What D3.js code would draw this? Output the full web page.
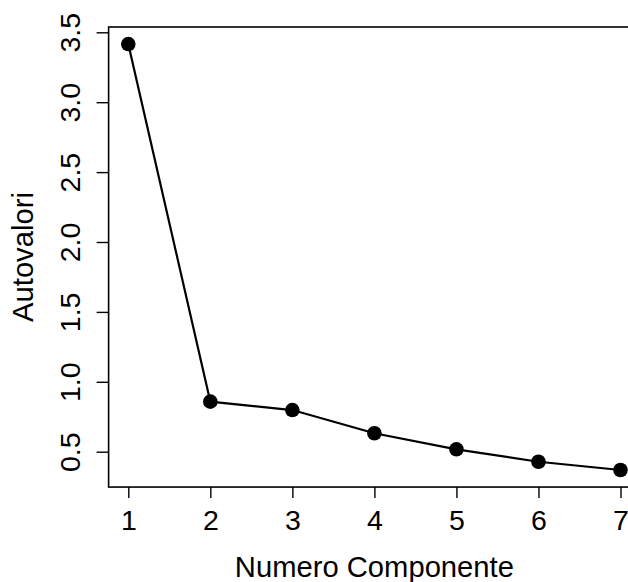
<!DOCTYPE html>
<html>
<head>
<meta charset="utf-8">
<script src="https://cdn.jsdelivr.net/npm/d3@7/dist/d3.min.js"></script>
<style>
  html, body { margin: 0; padding: 0; background: #fff; }
  svg { display: block; }
  text { font-family: "Liberation Sans", Arial, sans-serif; fill: #000; }
</style>
</head>
<body>
<svg id="chart" width="628" height="582"></svg>
<script>
// Scree plot: eigenvalues per principal component
const components = [1, 2, 3, 4, 5, 6, 7];
const eigenvalues = [3.416, 0.858, 0.798, 0.632, 0.517, 0.428, 0.369];
const xTicks = [1, 2, 3, 4, 5, 6, 7];
const yTicks = [0.5, 1.0, 1.5, 2.0, 2.5, 3.0, 3.5];
const xTitle = "Numero Componente";
const yTitle = "Autovalori";

const svg = d3.select("#chart");

const x = d3.scaleLinear().domain([1, 7]).range([128.3, 620.5]);
const y = d3.scaleLinear().domain([0.5, 3.5]).range([451.7, 32.3]);

// plot region padded 4% beyond the data range on each side
const xPad = (d3.max(components) - d3.min(components)) * 0.04;
const yPad = (d3.max(eigenvalues) - d3.min(eigenvalues)) * 0.04;
const boxLeft = x(d3.min(components) - xPad);
const boxRight = x(d3.max(components) + xPad);
const boxTop = y(d3.max(eigenvalues) + yPad);
const boxBottom = y(d3.min(eigenvalues) - yPad);

svg.append("rect")
  .attr("x", boxLeft).attr("y", boxTop)
  .attr("width", boxRight - boxLeft).attr("height", boxBottom - boxTop)
  .attr("fill", "none").attr("stroke", "#000").attr("stroke-width", 1.6);

// x axis
const xAxis = d3.axisBottom(x).tickValues(xTicks).tickFormat(d3.format("d"))
  .tickSize(11);
const gx = svg.append("g").attr("transform", `translate(0,${boxBottom})`).call(xAxis);
gx.select(".domain").remove();
gx.selectAll(".tick line").attr("stroke", "#000").attr("stroke-width", 1.4);
gx.selectAll(".tick text").attr("font-size", 28.5).attr("font-family", "Liberation Sans, Arial, sans-serif")
  .attr("fill", "#000").attr("y", 0).attr("dy", 0)
  .attr("transform", `translate(0,${530 - boxBottom})`);

// y axis with rotated labels
const yAxis = d3.axisLeft(y).tickValues(yTicks).tickFormat(d3.format(".1f"))
  .tickSize(12);
const gy = svg.append("g").attr("transform", `translate(${boxLeft},0)`).call(yAxis);
gy.select(".domain").remove();
gy.selectAll(".tick line").attr("stroke", "#000").attr("stroke-width", 1.4);
gy.selectAll(".tick text").attr("font-size", 28.5).attr("font-family", "Liberation Sans, Arial, sans-serif")
  .attr("fill", "#000").attr("x", 0).attr("dy", 0)
  .attr("text-anchor", "middle")
  .attr("transform", `translate(${80 - boxLeft},0) rotate(-90)`);

// connecting line
const line = d3.line().x((d, i) => x(components[i])).y(d => y(d));
svg.append("path")
  .datum(eigenvalues)
  .attr("d", line)
  .attr("fill", "none").attr("stroke", "#000").attr("stroke-width", 2.2);

// points
svg.selectAll("circle.pt")
  .data(eigenvalues)
  .join("circle")
  .attr("class", "pt")
  .attr("cx", (d, i) => x(components[i]))
  .attr("cy", d => y(d))
  .attr("r", 7.3)
  .attr("fill", "#000");

// axis titles
svg.append("text")
  .attr("x", (boxLeft + boxRight) / 2).attr("y", 576.5)
  .attr("text-anchor", "middle").attr("font-size", 29.2)
  .text(xTitle);

svg.append("text")
  .attr("transform", `translate(33,${(boxTop + boxBottom) / 2}) rotate(-90)`)
  .attr("text-anchor", "middle").attr("font-size", 29.2)
  .text(yTitle);
</script>
</body>
</html>
